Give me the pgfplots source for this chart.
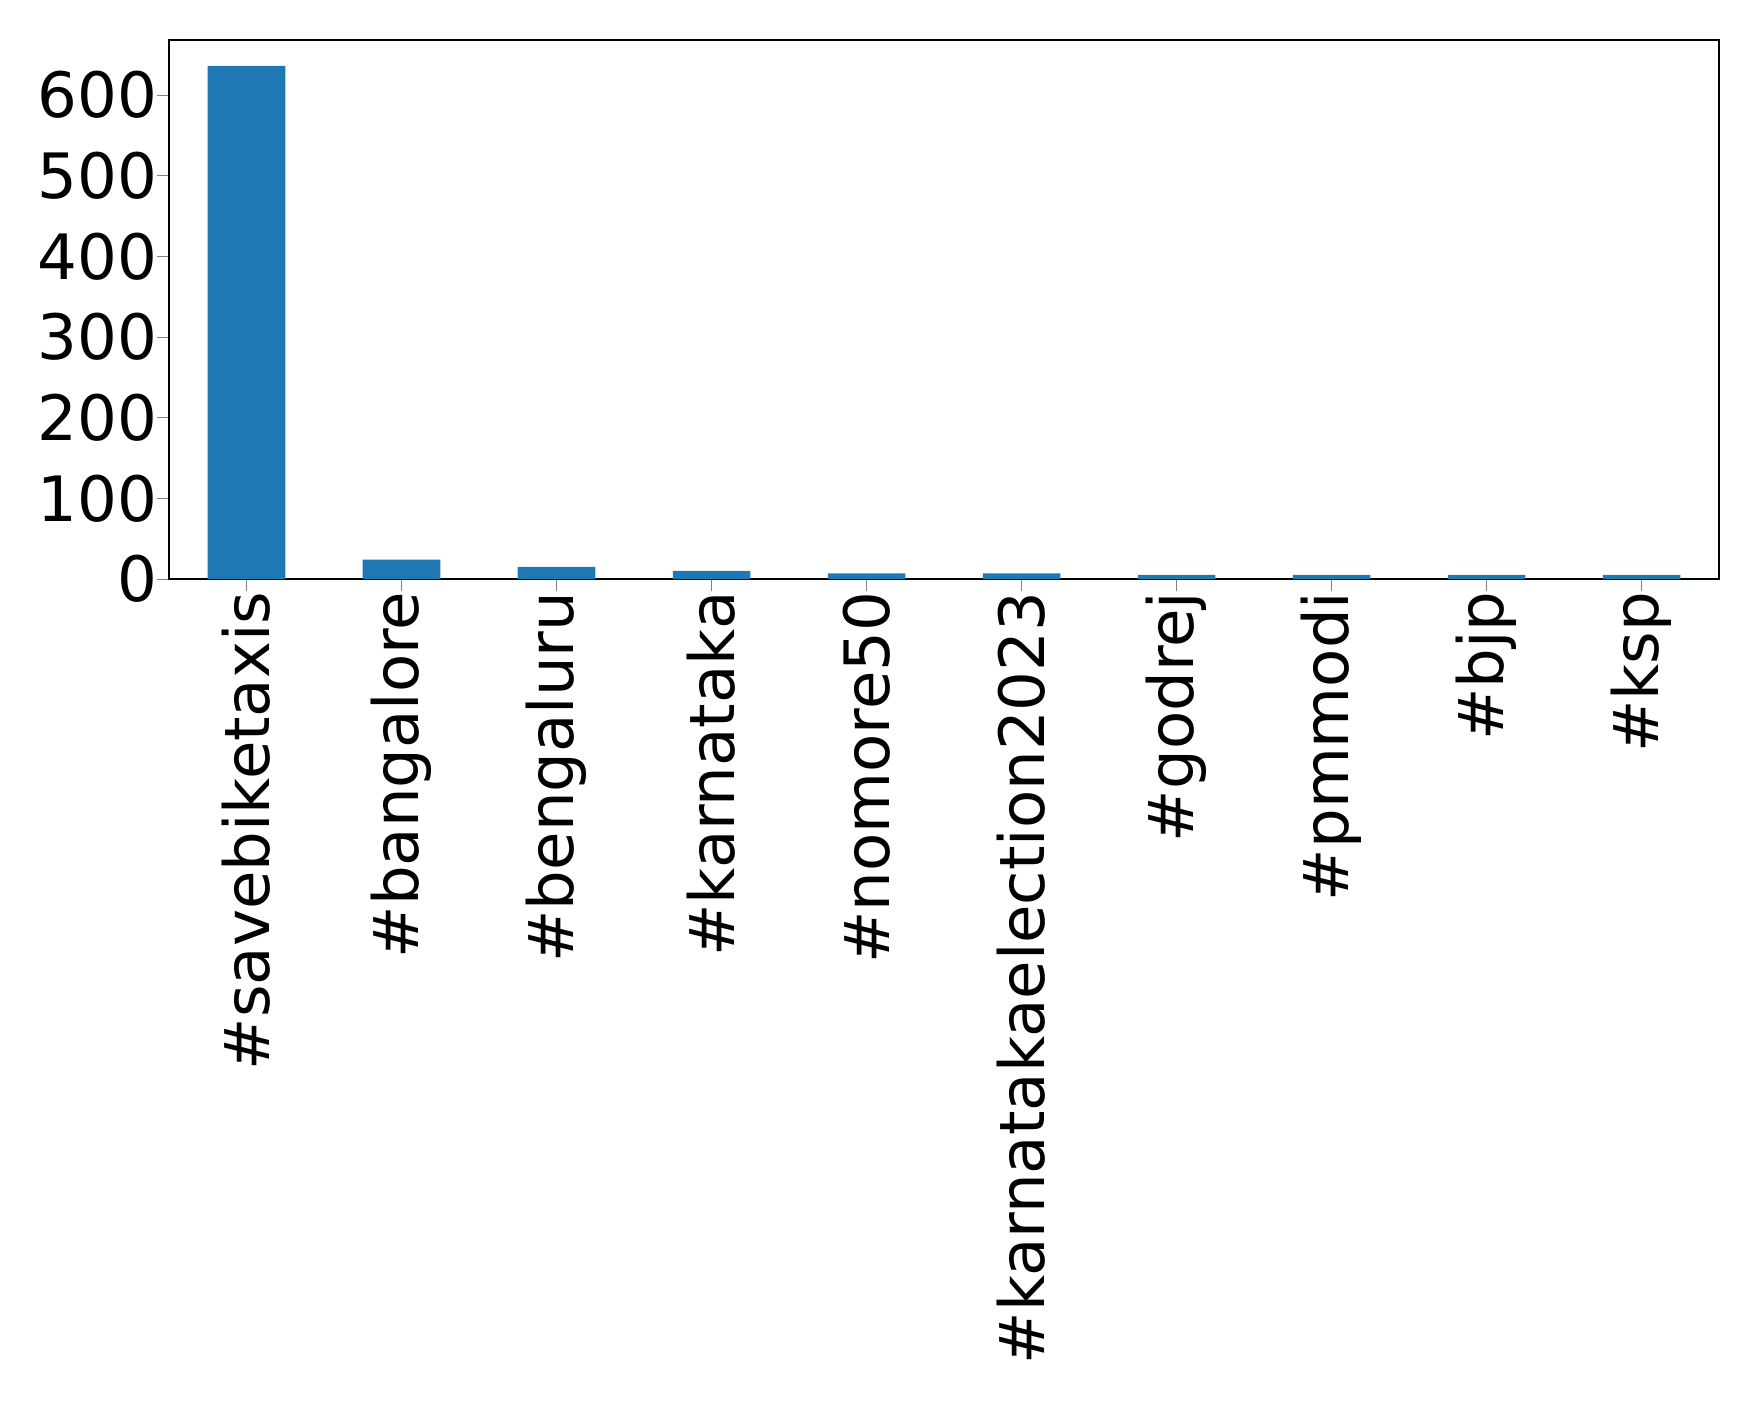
\documentclass[border=0pt]{standalone}
\usepackage{fontspec}
\setmainfont{DejaVu Sans}
\usepackage{pgfplots}
\pgfplotsset{compat=1.18}
\definecolor{mplblue}{HTML}{1F77B4}

\begin{document}
\begin{tikzpicture}
    \path[use as bounding box] (-16.9mm,-82.1mm) rectangle (159mm,57.9mm);
    \begin{axis}[
        at={(0,0)}, anchor=south west,
        scale only axis,
        width=155mm, height=53.9mm,
        xmin=-0.5, xmax=9.5,
        ymin=0, ymax=668,
        xtick=data,
        xticklabels={\#savebiketaxis,\#bangalore,\#bengaluru,\#karnataka,\#nomore50,\#karnatakaelection2023,\#godrej,\#pmmodi,\#bjp,\#ksp},
        x tick label style={rotate=90, anchor=east, inner sep=0pt},
        y tick label style={inner sep=0pt, xshift=0.1mm},
        ytick={0,100,...,600},
        tick label style={font=\fontsize{17.8}{20}\selectfont},
        /pgf/number format/assume math mode=true,
        tick align=outside,
        major tick length=1.2mm,
        xtick pos=bottom, ytick pos=left,
        axis line style={line width=0.4pt},
        ybar,
        bar width={0.5*155mm/10},
    ]
        \addplot[fill=mplblue, draw=none] coordinates {
            (0, 636)
            (1, 24)
            (2, 15)
            (3, 10)
            (4, 7)
            (5, 7)
            (6, 5)
            (7, 5)
            (8, 5)
            (9, 5)
        };
    \end{axis}
\end{tikzpicture}
\end{document}
